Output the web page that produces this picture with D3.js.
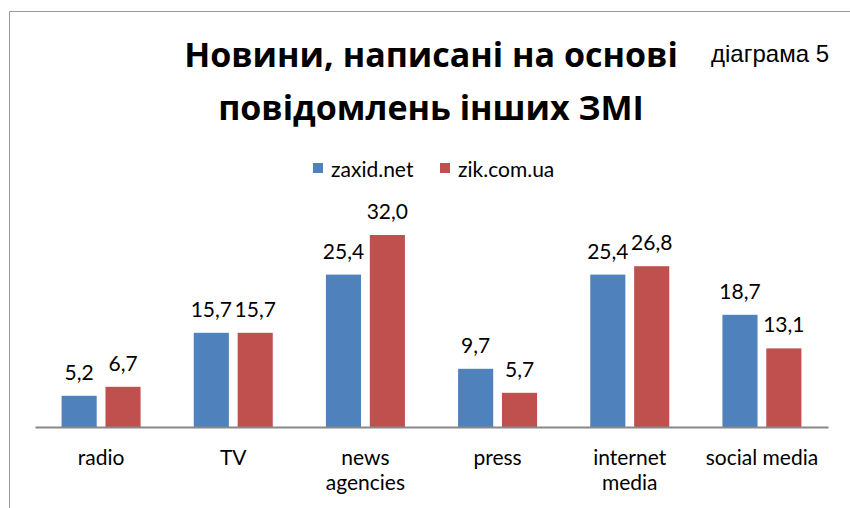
<!DOCTYPE html>
<html>
  <head>
    <meta charset="utf-8">
    <title>Новини, написані на основі повідомлень інших ЗМІ</title>
    <script src="https://d3js.org/d3.v7.min.js"></script>
    <style>
      body { margin: 0; background: #fff; }
      .chart text { font-family: Lato, "Open Sans", sans-serif; fill: #000; }
      .chart .title { font-family: "Open Sans", sans-serif; font-weight: bold; font-size: 34px; }
      .chart .note { font-family: "Liberation Sans", Arial, sans-serif; font-size: 24px; }
      .chart .lbl { font-size: 21px; }
    </style>
  </head>
  <body>
    <svg class="chart"></svg>
    <script>
      // Data
      const categories = [["radio"], ["TV"], ["news", "agencies"], ["press"], ["internet", "media"], ["social media"]];
      const seriesNames = ["zaxid.net", "zik.com.ua"];
      const zaxid = [5.2, 15.7, 25.4, 9.7, 25.4, 18.7];
      const zik = [6.7, 15.7, 32.0, 5.7, 26.8, 13.1];
      const colors = ["#4F81BD", "#C0504D"];

      const W = 850, H = 508;
      const svg = d3.select(".chart").attr("width", W).attr("height", H);

      // frame (only top and left edges visible)
      svg.append("path")
        .attr("d", "M9.5,508 V11.5 H850")
        .attr("fill", "none")
        .attr("stroke", "#999")
        .attr("stroke-width", 1);

      // title
      const title = svg.append("text").attr("class", "title").attr("text-anchor", "middle");
      title.append("tspan").attr("x", 431).attr("y", 67).text("Новини, написані на основі");
      title.append("tspan").attr("x", 431).attr("y", 120).text("повідомлень інших ЗМІ");

      svg.append("text").attr("class", "note")
        .attr("x", 829).attr("y", 62).attr("text-anchor", "end")
        .text("діаграма 5");

      // legend
      const legX = [313, 440];
      seriesNames.forEach((s, i) => {
        svg.append("rect").attr("x", legX[i]).attr("y", 163).attr("width", 10).attr("height", 10).attr("fill", colors[i]);
        svg.append("text").attr("class", "lbl").attr("x", legX[i] + 18).attr("y", 177).text(s);
      });

      // scales
      const x = d3.scaleBand()
        .domain(d3.range(categories.length))
        .range([35, 828]);
      const x1 = d3.scaleBand().domain([0, 1]).range([x.bandwidth() / 2 - 39.5, x.bandwidth() / 2 + 39.5]).paddingInner(0.2);
      const y = d3.scaleLinear().domain([0, 35]).range([427, 217]);

      const data = categories.map((c, i) => ({ i, vals: [zaxid[i], zik[i]] }));

      const groups = svg.selectAll(".grp").data(data).enter().append("g")
        .attr("transform", d => "translate(" + x(d.i) + ",0)");

      groups.selectAll("rect").data(d => d.vals.map((v, k) => ({ v, k }))).enter().append("rect")
        .attr("x", d => x1(d.k))
        .attr("width", x1.bandwidth())
        .attr("y", d => y(d.v))
        .attr("height", d => y(0) - y(d.v))
        .attr("fill", d => colors[d.k]);

      groups.selectAll("text.val").data(d => d.vals.map((v, k) => ({ v, k }))).enter().append("text")
        .attr("class", "lbl val")
        .attr("x", d => x1(d.k) + x1.bandwidth() / 2)
        .attr("y", d => y(d.v) - 16)
        .attr("text-anchor", "middle")
        .text(d => d.v.toFixed(1).replace(".", ","));

      // axis
      const xAxis = d3.axisBottom(x).tickSize(0).tickFormat("");
      const ax = svg.append("g").attr("transform", "translate(0,427)").call(xAxis);
      ax.select(".domain").attr("stroke", "#888").attr("stroke-width", 2);

      groups.each(function (d) {
        const t = d3.select(this).append("text").attr("class", "lbl").attr("text-anchor", "middle");
        categories[d.i].forEach((line, j) => {
          t.append("tspan").attr("x", x.bandwidth() / 2).attr("y", 465 + j * 25).text(line);
        });
      });
    </script>
  </body>
</html>
